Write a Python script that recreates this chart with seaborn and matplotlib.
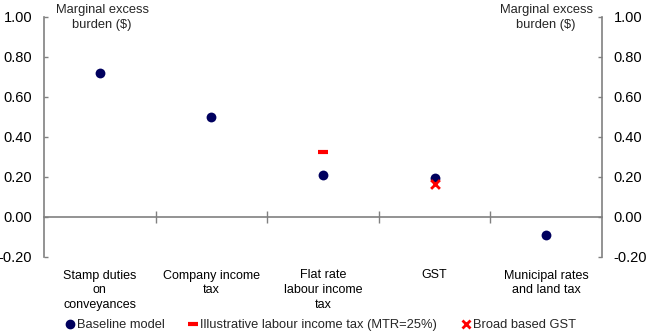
import matplotlib
matplotlib.use("Agg")
import matplotlib.pyplot as plt
import seaborn as sns
import pandas as pd
from matplotlib.lines import Line2D

categories = ["Stamp duties\non\nconveyances", "Company income\ntax",
              "Flat rate\nlabour income\ntax", "GST", "Municipal rates\nand land tax"]
baseline = [0.72, 0.50, 0.21, 0.195, -0.09]
illustrative_cat = ["Flat rate\nlabour income\ntax"]
illustrative_val = [0.325]
gst_cat = ["GST"]
gst_val = [0.165]
yticks = [-0.20, 0.00, 0.20, 0.40, 0.60, 0.80, 1.00]

sns.set_theme(style="white")
plt.rcParams['font.family'] = ['Liberation Sans', 'DejaVu Sans']
plt.rcParams['font.size'] = 9

NAVY = "#00005E"
RED = "#FF0000"
GREY = "#808080"

fig = plt.figure(figsize=(6.48, 3.36), dpi=100)
ax = fig.add_axes([44/648, 1-257/336, (602-44)/648, (257-17)/336])

pos = {c: i for i, c in enumerate(categories)}
df_base = pd.DataFrame({"x": [pos[c] for c in categories], "y": baseline})
df_ill = pd.DataFrame({"x": [pos[c] for c in illustrative_cat], "y": illustrative_val})
df_gst = pd.DataFrame({"x": [pos[c] for c in gst_cat], "y": gst_val})

sns.scatterplot(data=df_base, x="x", y="y", ax=ax, color=NAVY, s=50,
                edgecolor=NAVY, linewidth=0, zorder=3, legend=False)
sns.scatterplot(data=df_ill, x="x", y="y", ax=ax, marker="_", s=55,
                color=RED, edgecolor=RED, linewidth=3, zorder=4, legend=False)
sns.scatterplot(data=df_gst, x="x", y="y", ax=ax, marker="x", s=40,
                color=RED, edgecolor=RED, linewidth=2, zorder=4, legend=False)

ax.set_xlim(-0.5, len(categories) - 0.5)
ax.set_ylim(yticks[0], yticks[-1])
ax.set_xlabel("")
ax.set_ylabel("")

ax.set_xticks(range(len(categories)))
ax.set_xticklabels(categories, linespacing=1.28)
ax.tick_params(axis="x", length=0, pad=9, labelsize=9, colors="black")
ax.set_yticks(yticks)
ax.set_yticklabels([f"{v:.2f}" for v in yticks])
ax.tick_params(axis="y", direction="in", length=3, width=1, color=GREY,
               pad=8.5, labelsize=10.5, labelcolor="black", left=True)

for s in ["top", "bottom", "right"]:
    ax.spines[s].set_visible(False)
ax.spines["left"].set_color(GREY)
ax.spines["left"].set_linewidth(1.2)

# right axis
axr = ax.twinx()
axr.set_ylim(ax.get_ylim())
axr.set_yticks(yticks)
axr.set_yticklabels([f"{v:.2f}" for v in yticks])
axr.tick_params(axis="y", direction="in", length=3, width=1, color=GREY,
                pad=8.5, labelsize=10.5, labelcolor="black", right=True)
for s in ["top", "bottom", "left"]:
    axr.spines[s].set_visible(False)
axr.spines["right"].set_color(GREY)
axr.spines["right"].set_linewidth(1.2)
axr.grid(False)

# zero line with category separators
axz = ax.twiny()
axz.set_xlim(ax.get_xlim())
for s in ["top", "left", "right"]:
    axz.spines[s].set_visible(False)
axz.spines["bottom"].set_visible(True)
axz.spines["bottom"].set_position(("data", 0))
axz.spines["bottom"].set_color(GREY)
axz.spines["bottom"].set_linewidth(1.2)
axz.xaxis.set_ticks_position("bottom")
axz.set_xticks([i + 0.5 for i in range(len(categories) - 1)])
axz.set_xticklabels([])
axz.tick_params(axis="x", direction="inout", length=8, width=1, color=GREY, bottom=True, top=False)
axz.grid(False)

fig.text(102/648, 1-3.5/336, "Marginal excess\nburden ($)", ha="center", va="top",
         fontsize=9.3, linespacing=1.4)
fig.text(546/648, 1-3.5/336, "Marginal excess\nburden ($)", ha="center", va="top",
         fontsize=9.3, linespacing=1.4)

handles = [
    Line2D([], [], linestyle="none", marker="o", color=NAVY, markersize=6),
    Line2D([], [], linestyle="none", marker="_", color=RED, markersize=7, markeredgewidth=3),
    Line2D([], [], linestyle="none", marker="x", color=RED, markersize=6, markeredgewidth=2),
]
labels = ["Baseline model", "Illustrative labour income tax (MTR=25%)", "Broad based GST"]
fig.legend(handles, labels, loc="center left", bbox_to_anchor=(66/648, 1-325/336),
           ncol=3, frameon=False, fontsize=9.3, handlelength=0.6, handletextpad=0.25,
           columnspacing=1.9, borderpad=0, borderaxespad=0)

fig.savefig("out.png", dpi=100)
